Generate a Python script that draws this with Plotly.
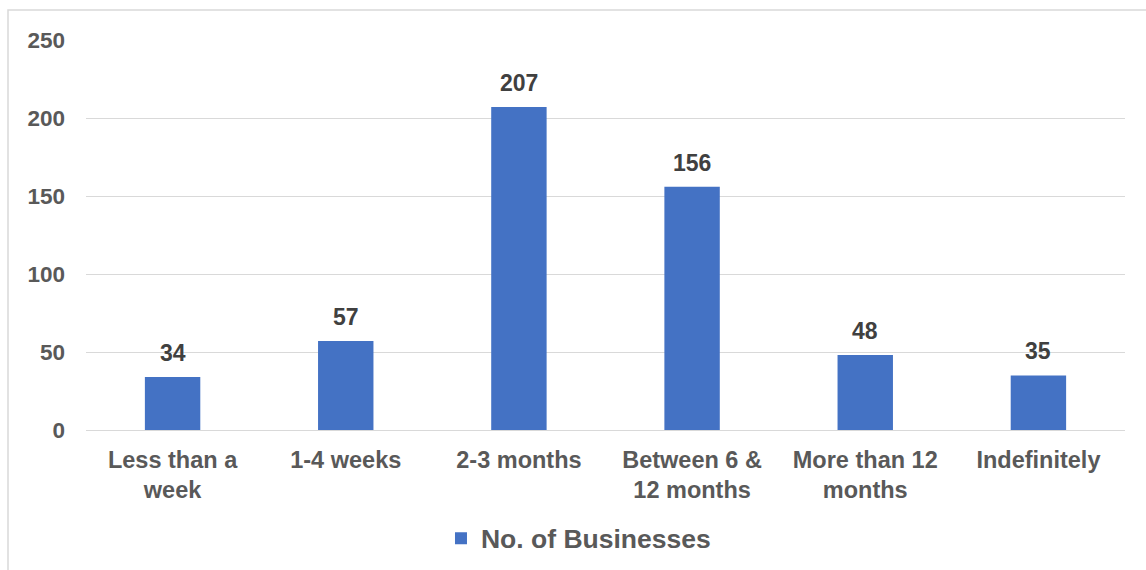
import plotly.graph_objects as go

categories = ["Less than a<br>week", "1-4 weeks", "2-3 months", "Between 6 &<br>12 months",
              "More than 12<br>months", "Indefinitely"]
values = [34, 57, 207, 156, 48, 35]
series_name = "No. of Businesses"
y_ticks = [0, 50, 100, 150, 200, 250]

FONT = "Liberation Sans, Arial, sans-serif"

fig = go.Figure()
fig.add_trace(go.Bar(
    x=categories, y=values, name=series_name,
    marker=dict(color="#4472C4", line=dict(width=0)),
))

for c, v in zip(categories, values):
    fig.add_annotation(x=c, y=v, text=str(v), showarrow=False, yanchor="bottom",
                       yshift=9,
                       font=dict(family=FONT, size=23, color="#404040", weight="bold"))

fig.update_layout(
    width=1146, height=570,
    margin=dict(l=86, r=21, t=40, b=140, autoexpand=False),
    paper_bgcolor="white", plot_bgcolor="white",
    bargap=0.68,
    showlegend=True,
    legend=dict(orientation="h", x=0.474, xanchor="center", y=-0.278, yanchor="middle",
                font=dict(family=FONT, size=26.5, color="#595959", weight="bold"),
                itemsizing="constant"),
    xaxis=dict(showgrid=False, showline=False, zeroline=False, automargin=False,
               tickfont=dict(family=FONT, size=23.5, color="#595959", weight="bold"),
               ticks="", ticklabelstandoff=13),
    yaxis=dict(range=[0, 250], tickvals=y_ticks, showgrid=True, gridcolor="#d9d9d9",
               gridwidth=1, zeroline=True, zerolinecolor="#d9d9d9", zerolinewidth=1,
               showline=False, ticks="", ticklabelstandoff=20, automargin=False,
               tickfont=dict(family=FONT, size=22.5, color="#595959", weight="bold")),
    shapes=[dict(type="rect", xref="paper", yref="paper",
                 x0=(8 - 86) / 1039, x1=1.2, y0=-0.6, y1=(430 - 10) / 390,
                 line=dict(color="#d9d9d9", width=1.5), fillcolor="rgba(0,0,0,0)", layer="below")],
)

fig.write_html("out.html")
